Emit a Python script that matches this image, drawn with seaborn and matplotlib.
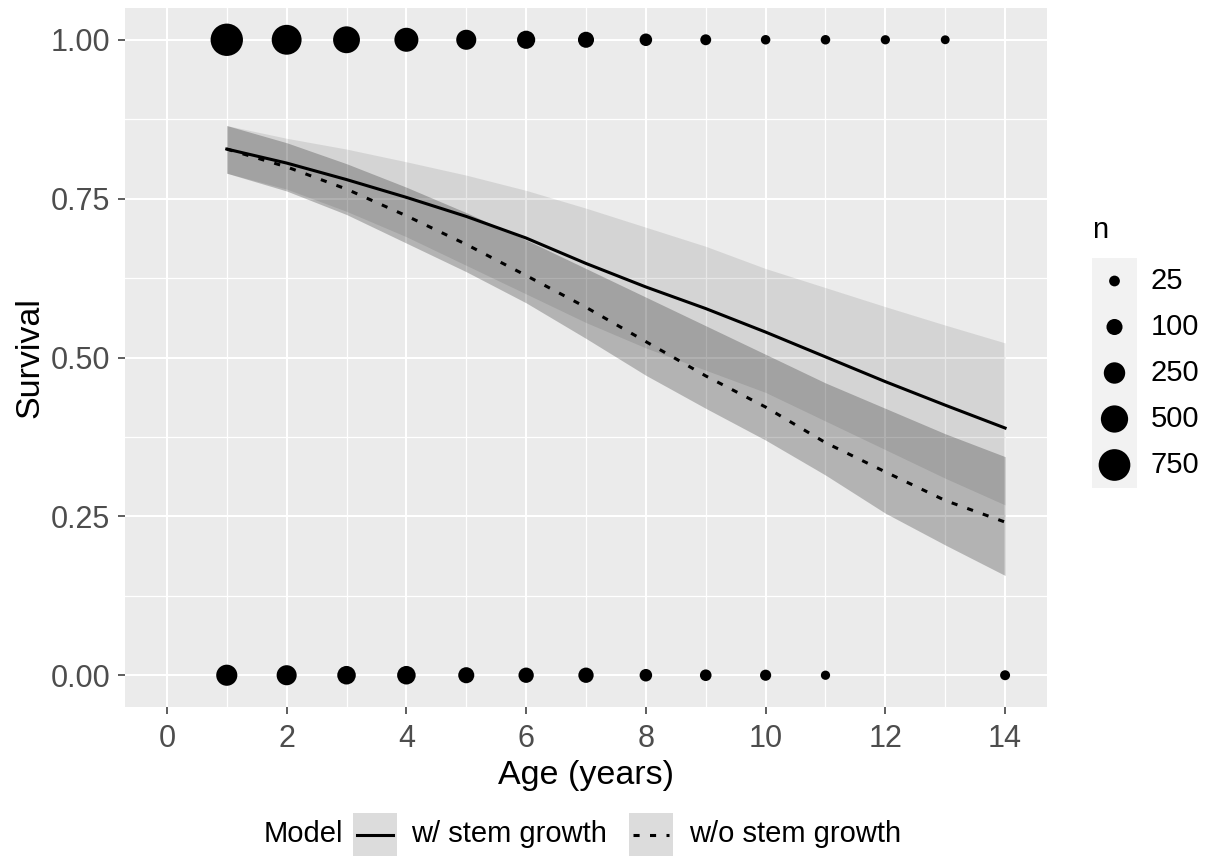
import numpy as np
import pandas as pd
import matplotlib
matplotlib.use("Agg")
import matplotlib.pyplot as plt
import seaborn as sns

# ---------------- data ----------------
age = list(range(1, 15))
surv_with = [0.828, 0.806, 0.780, 0.752, 0.722, 0.688, 0.648, 0.611, 0.577, 0.540, 0.501, 0.462, 0.425, 0.389]
with_hi = [0.865, 0.845, 0.828, 0.808, 0.787, 0.763, 0.735, 0.705, 0.675, 0.640, 0.610, 0.580, 0.551, 0.523]
with_lo = [0.790, 0.765, 0.730, 0.690, 0.645, 0.600, 0.555, 0.515, 0.480, 0.445, 0.400, 0.355, 0.310, 0.268]
surv_without = [0.828, 0.800, 0.765, 0.723, 0.678, 0.629, 0.579, 0.525, 0.471, 0.422, 0.366, 0.320, 0.275, 0.241]
without_hi = [0.865, 0.838, 0.805, 0.768, 0.728, 0.685, 0.640, 0.595, 0.550, 0.505, 0.460, 0.420, 0.380, 0.344]
without_lo = [0.790, 0.762, 0.725, 0.680, 0.635, 0.586, 0.530, 0.472, 0.420, 0.370, 0.315, 0.255, 0.205, 0.157]

alive_age = list(range(1, 14))
alive_n = [790, 640, 480, 350, 205, 150, 100, 42, 26, 18, 18, 17, 16]
dead_age = [1, 2, 3, 4, 5, 6, 7, 8, 9, 10, 11, 14]
dead_n = [240, 205, 160, 160, 100, 85, 85, 42, 32, 28, 17, 20]

size_breaks = [25, 100, 250, 500, 750]
model_labels = ["w/ stem growth", "w/o stem growth"]
x_ticks = [0, 2, 4, 6, 8, 10, 12, 14]
y_ticks = [0.00, 0.25, 0.50, 0.75, 1.00]

# ---------------- style ----------------
plt.rcParams['font.family'] = ['Liberation Sans', 'DejaVu Sans']

W, H = 1209, 857
fig = plt.figure(figsize=(W / 100, H / 100), dpi=100)


def fx(px):
    return px / W


def fy(py):
    return 1 - py / H


def diam_px(n):
    return 8 + 24.5 * np.sqrt(np.clip((np.asarray(n, float) - 15) / 785.0, 0, 1))


def area_pt2(n):
    return float((diam_px(n) * 0.72) ** 2)


TICK_FS = 22
TITLE_FS = 24.5
LEG_FS = 21
DASH = (2.0, 3.4)

L, R, T, B = 125, 1047, 8, 707
ax = fig.add_axes([fx(L), fy(B), fx(R - L), (B - T) / H])
ax.set_facecolor('#EBEBEB')
for s in ax.spines.values():
    s.set_visible(False)

ax.set_xlim(-0.7, 14.7)
ax.set_ylim(-0.05, 1.05)
ax.set_xticks(x_ticks)
ax.set_yticks(y_ticks)
ax.set_xticks(np.arange(1, 14, 2), minor=True)
ax.set_yticks(np.arange(0.125, 1.0, 0.25), minor=True)
ax.set_xticklabels([str(v) for v in x_ticks])
ax.set_yticklabels([f"{v:.2f}" for v in y_ticks])
ax.grid(which='major', color='white', lw=1.5)
ax.grid(which='minor', color='white', lw=0.9)
ax.set_axisbelow(True)
ax.tick_params(which='major', length=5, width=1.1, color='#333333',
               labelsize=TICK_FS, labelcolor='#4D4D4D', pad=5.5)
ax.tick_params(axis='x', which='major', pad=7.5)
ax.tick_params(which='minor', length=0)

# ribbons
ax.fill_between(age, with_lo, with_hi, color='black', alpha=0.095, lw=0, zorder=1)
ax.fill_between(age, without_lo, without_hi, color='black', alpha=0.235, lw=0, zorder=1)

# lines
lines_df = pd.DataFrame({
    'age': age * 2,
    'surv': surv_with + surv_without,
    'Model': [model_labels[0]] * len(age) + [model_labels[1]] * len(age),
})
sns.lineplot(data=lines_df, x='age', y='surv', style='Model',
             dashes={model_labels[0]: '', model_labels[1]: DASH},
             color='black', lw=2.2, errorbar=None, legend=False, ax=ax, zorder=3)

# points
pts = pd.DataFrame({
    'age': alive_age + dead_age,
    'surv': [1.0] * len(alive_age) + [0.0] * len(dead_age),
    'n': alive_n + dead_n,
})
size_map = {v: area_pt2(v) for v in sorted(set(pts['n']) | set(size_breaks))}
sns.scatterplot(data=pts, x='age', y='surv', size='n', sizes=size_map,
                color='black', linewidth=0, legend=False, ax=ax, zorder=4)

ax.set_xlabel('Age (years)', fontsize=TITLE_FS, color='black', labelpad=4)
ax.set_ylabel('Survival', fontsize=TITLE_FS, color='black', labelpad=4)

# ---------------- size legend (n) ----------------
KX0, KX1, KY0, KY1 = 1092, 1137, 258, 488
axn = fig.add_axes([fx(KX0), fy(KY1), fx(KX1 - KX0), (KY1 - KY0) / H])
axn.set_facecolor('#F2F2F2')
for s in axn.spines.values():
    s.set_visible(False)
axn.set_xticks([]); axn.set_yticks([])
leg_df = pd.DataFrame({'x': [0] * len(size_breaks), 'y': list(range(len(size_breaks))),
                       'n': size_breaks})
sns.scatterplot(data=leg_df, x='x', y='y', size='n', sizes=size_map,
                color='black', linewidth=0, legend=False, ax=axn)
axn.set_xlim(-1, 1)
axn.set_ylim(len(size_breaks) - 0.5, -0.5)
axn.set_xlabel(''); axn.set_ylabel('')
for i, b in enumerate(size_breaks):
    axn.text(1.3, i, str(b), transform=axn.get_yaxis_transform(), ha='left', va='center',
             fontsize=LEG_FS, color='black', clip_on=False)
fig.text(fx(KX0), fy(KY0 - 14), 'n', ha='left', va='bottom', fontsize=LEG_FS, color='black')

# ---------------- bottom legend (Model) ----------------
ky0, ky1 = 813, 856
fig.text(fx(264), fy((ky0 + ky1) / 2), 'Model', ha='left', va='center', fontsize=LEG_FS)
key_x = [353, 629]
lab_x = [411, 689]
for i, lab in enumerate(model_labels):
    axk = fig.add_axes([fx(key_x[i]), fy(ky1), fx(44), (ky1 - ky0) / H])
    axk.set_facecolor('#DCDCDC')
    for s in axk.spines.values():
        s.set_visible(False)
    axk.set_xticks([]); axk.set_yticks([])
    axk.set_xlim(0, 1); axk.set_ylim(0, 1)
    if i == 0:
        axk.axhline(0.5, xmin=0.08, xmax=0.92, color='black', lw=2.2)
    else:
        axk.axhline(0.5, xmin=0.08, xmax=0.92, color='black', lw=2.2, dashes=DASH)
    fig.text(fx(lab_x[i]), fy((ky0 + ky1) / 2), lab, ha='left', va='center', fontsize=LEG_FS)

fig.savefig('out.png', dpi=100, facecolor='white')
